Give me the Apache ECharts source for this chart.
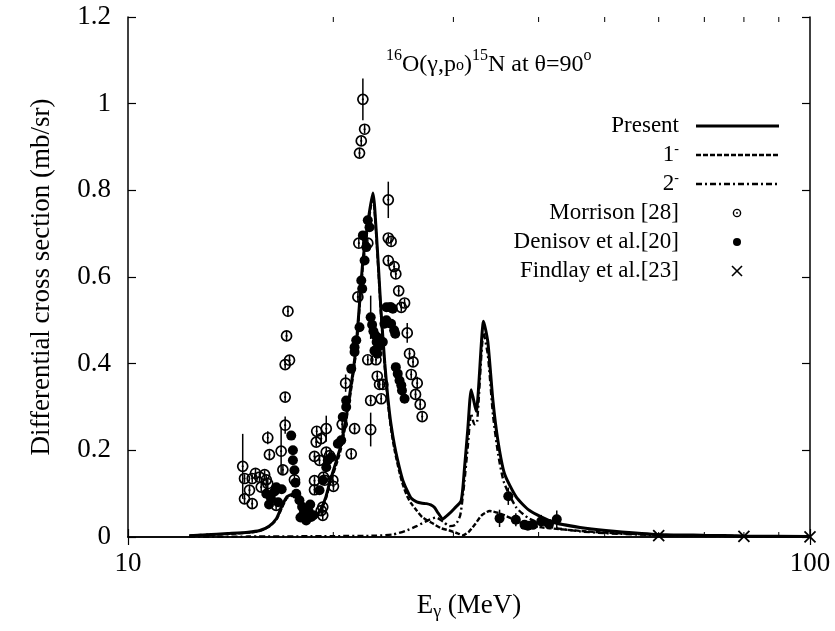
<!DOCTYPE html>
<html><head><meta charset="utf-8">
<script src="https://cdn.jsdelivr.net/npm/echarts@6/dist/echarts.min.js"></script>
<style>html,body{margin:0;padding:0;background:#fff}#c{width:835px;height:631px}</style>
</head><body><div id="c"></div>
<script>
// ---- data (E in MeV, cross section in mb/sr) ----
const presentCurve = [[12.3,0.003],[13,0.005],[14,0.008],[15,0.011],[15.6,0.015],[16.1,0.025],[16.5,0.042],[16.8,0.07],[17.1,0.093],[17.4,0.098],[17.8,0.084],[18.2,0.06],[18.6,0.048],[18.9,0.05],[19.2,0.066],[19.5,0.092],[19.75,0.125],[20.5,0.21],[21.1,0.32],[21.6,0.44],[22.08,0.63],[22.45,0.72],[22.86,0.794],[23.0,0.76],[23.3,0.62],[23.5,0.52],[23.8,0.40],[24.05,0.32],[24.3,0.26],[24.6,0.21],[25.0,0.16],[25.3,0.13],[25.7,0.105],[26.0,0.09],[26.5,0.081],[27.0,0.078],[27.4,0.077],[27.8,0.074],[28.15,0.068],[28.5,0.055],[28.95,0.042],[29.5,0.052],[30.1,0.066],[30.8,0.084],[31.15,0.16],[31.5,0.25],[31.86,0.34],[32.4,0.29],[33.22,0.498],[33.7,0.45],[34.28,0.315],[34.86,0.223],[35.65,0.146],[37.1,0.092],[38.8,0.061],[42,0.034],[46,0.022],[50.2,0.015],[59.5,0.006],[70,0.004],[80,0.0025],[100,0.001]];
const minus1Curve = [[12.3,0.003],[13,0.005],[14,0.007],[15,0.01],[15.6,0.014],[16.1,0.024],[16.5,0.04],[16.8,0.066],[17.1,0.09],[17.4,0.095],[17.8,0.08],[18.2,0.056],[18.6,0.045],[18.9,0.047],[19.2,0.062],[19.5,0.088],[19.75,0.12],[20.5,0.2],[21.1,0.31],[21.6,0.43],[22.08,0.62],[22.45,0.71],[22.86,0.785],[23.0,0.75],[23.3,0.61],[23.5,0.51],[23.8,0.39],[24.05,0.31],[24.3,0.25],[24.6,0.2],[25.0,0.15],[25.3,0.12],[25.7,0.092],[26.0,0.078],[26.5,0.061],[27.0,0.046],[28.0,0.031],[28.8,0.02],[29.6,0.015],[30.5,0.008],[31.0,0.004],[31.6,0.012],[32.3,0.03],[33.0,0.05],[33.9,0.06],[35.0,0.055],[36.5,0.043],[38.0,0.03],[40,0.023],[43,0.018],[47,0.013],[50,0.01],[60,0.005],[70,0.003],[80,0.002],[100,0.001]];
const minus2Curve = [[12.3,0.0005],[15,0.001],[20,0.002],[23,0.003],[24.5,0.006],[25.5,0.014],[26.5,0.025],[27.5,0.038],[28.3,0.045],[29.0,0.035],[29.6,0.025],[30.2,0.028],[30.7,0.05],[31.1,0.12],[31.5,0.21],[31.85,0.285],[32.2,0.26],[32.5,0.265],[33.22,0.47],[33.7,0.42],[34.3,0.28],[34.9,0.19],[35.6,0.125],[37.1,0.068],[38.8,0.042],[42,0.022],[46,0.013],[50,0.009],[60,0.004],[80,0.0015],[100,0.0006]];
// [E, value, error]
const morrison = [[14.73,0.163,0.075],[14.82,0.135,0.01],[15.21,0.135,0.01],[15.59,0.138,0.01],[15.86,0.144,0.01],[15.95,0.132,0.01],[14.82,0.088,0.01],[15.21,0.077,0.01],[15.07,0.108,0.01],[15.68,0.115,0.01],[16.03,0.123,0.01],[15.38,0.147,0.01],[16.49,0.073,0.01],[16.03,0.229,0.015],[16.12,0.19,0.01],[16.77,0.198,0.055],[16.87,0.155,0.01],[17.0,0.258,0.02],[17.0,0.323,0.01],[17.0,0.398,0.01],[17.25,0.408,0.01],[17.08,0.464,0.012],[17.16,0.521,0.012],[17.54,0.132,0.01],[18.77,0.186,0.01],[18.88,0.219,0.01],[18.91,0.244,0.01],[19.09,0.177,0.01],[19.53,0.25,0.03],[19.53,0.196,0.01],[18.77,0.109,0.01],[18.77,0.13,0.01],[19.35,0.138,0.01],[19.30,0.05,0.01],[20.01,0.117,0.01],[19.30,0.069,0.01],[19.2,0.061,0.01],[19.2,0.227,0.01],[19.75,0.188,0.01],[19.42,0.131,0.01],[19.97,0.131,0.01],[20.61,0.26,0.02],[21.25,0.192,0.01],[21.49,0.25,0.01],[22.69,0.248,0.039],[20.85,0.355,0.02],[21.73,0.554,0.01],[21.80,0.678,0.01],[22.47,0.678,0.01],[22.47,0.409,0.01],[23.10,0.409,0.01],[23.20,0.371,0.01],[23.38,0.352,0.01],[23.64,0.352,0.01],[22.69,0.315,0.01],[23.51,0.319,0.01],[22.10,1.01,0.048],[22.23,0.941,0.01],[21.98,0.914,0.01],[21.85,0.886,0.01],[24.08,0.778,0.042],[24.08,0.69,0.01],[24.31,0.682,0.01],[24.08,0.638,0.01],[24.56,0.624,0.01],[24.70,0.607,0.01],[24.94,0.568,0.01],[25.44,0.54,0.01],[25.16,0.53,0.01],[25.67,0.471,0.023],[25.87,0.423,0.01],[26.18,0.404,0.01],[26.02,0.375,0.01],[26.55,0.355,0.015],[26.40,0.329,0.01],[26.82,0.306,0.01],[27.00,0.278,0.01]];
const denisov = [[15.95,0.1,0],[16.2,0.09,0],[16.4,0.105,0],[16.6,0.08,0],[16.8,0.11,0],[16.1,0.075,0],[16.5,0.115,0],[17.35,0.234,0],[17.45,0.2,0],[17.45,0.177,0],[17.54,0.154,0],[17.65,0.1,0],[17.6,0.125,0],[17.84,0.085,0],[18.0,0.07,0],[18.1,0.055,0],[18.25,0.038,0],[18.4,0.06,0],[18.56,0.046,0],[18.5,0.075,0],[18.7,0.05,0],[17.9,0.045,0],[19.09,0.108,0],[19.63,0.177,0],[20.31,0.215,0],[20.65,0.277,0],[20.89,0.315,0],[21.25,0.388,0],[21.49,0.438,0],[21.61,0.454,0],[21.85,0.484,0],[19.3,0.131,0],[19.53,0.161,0],[19.86,0.184,0],[20.54,0.223,0],[20.89,0.3,0],[21.49,0.427,0],[22.05,0.573,0],[21.98,0.592,0],[22.23,0.638,0],[22.36,0.669,0],[22.10,0.696,0],[22.47,0.731,0],[22.6,0.715,0],[22.69,0.507,0.05],[22.8,0.49,0],[22.9,0.475,0],[23.05,0.465,0],[23.15,0.45,0],[23.25,0.46,0],[23.35,0.44,0],[22.98,0.43,0],[23.2,0.423,0],[23.93,0.53,0],[24.2,0.53,0],[24.31,0.53,0],[23.93,0.5,0],[24.31,0.492,0],[24.56,0.477,0],[24.65,0.469,0],[23.77,0.492,0],[24.45,0.527,0],[23.64,0.45,0],[24.70,0.392,0],[24.86,0.377,0],[25.01,0.361,0],[25.16,0.35,0],[25.44,0.319,0],[25.22,0.338,0],[35.06,0.043,0.02],[36.11,0.094,0.02],[37.04,0.04,0.015],[38.14,0.028,0],[38.57,0.026,0],[39.23,0.028,0],[40.36,0.036,0.015],[41.43,0.03,0],[42.53,0.041,0.02]];
const findlay = [[60,0.003],[80,0.0015],[100,0.0005]];
const minorTickValues = [20,30,40,50,60,70,80,90];
const yTicks = {min:0, max:1.2, interval:0.2};
const legendNames = ['Present','1-','2-','Morrison [28]','Denisov et al.[20]','Findlay et al.[23]'];

const FONT = "'Liberation Serif','Times New Roman',serif";
const chart = echarts.init(document.getElementById('c'), null, {renderer:'canvas'});

function morrisonItem(params, api){
  const x=api.value(0), y=api.value(1), e=api.value(2);
  const p=api.coord([x,y]), lo=api.coord([x,y-e]), hi=api.coord([x,y+e]);
  return {type:'group', children:[
    {type:'line', shape:{x1:p[0],y1:hi[1],x2:p[0],y2:lo[1]}, style:{stroke:'#000',lineWidth:1.5}},
    {type:'circle', shape:{cx:p[0],cy:p[1],r:5}, style:{fill:'rgba(0,0,0,0)',stroke:'#000',lineWidth:1.7}},
    {type:'circle', shape:{cx:p[0],cy:p[1],r:1.1}, style:{fill:'#000'}}
  ]};
}
function denisovItem(params, api){
  const x=api.value(0), y=api.value(1), e=api.value(2);
  const p=api.coord([x,y]), lo=api.coord([x,y-e]), hi=api.coord([x,y+e]);
  return {type:'group', children:[
    {type:'line', shape:{x1:p[0],y1:hi[1],x2:p[0],y2:lo[1]}, style:{stroke:'#000',lineWidth:1.5}},
    {type:'circle', shape:{cx:p[0],cy:p[1],r:5}, style:{fill:'#000'}}
  ]};
}
function crossItem(params, api){
  const p=api.coord([api.value(0),api.value(1)]); const s=5.5;
  return {type:'group', children:[
    {type:'line', shape:{x1:p[0]-s,y1:p[1]-s,x2:p[0]+s,y2:p[1]+s}, style:{stroke:'#000',lineWidth:1.8}},
    {type:'line', shape:{x1:p[0]-s,y1:p[1]+s,x2:p[0]+s,y2:p[1]-s}, style:{stroke:'#000',lineWidth:1.8}}
  ]};
}
function minorTickItem(params, api){
  const v=api.value(0); const b=api.coord([v,yTicks.min]); const t=api.coord([v,yTicks.max]);
  return {type:'group', children:[
    {type:'line', shape:{x1:b[0],y1:b[1],x2:b[0],y2:b[1]-5}, style:{stroke:'#000',lineWidth:1}},
    {type:'line', shape:{x1:t[0],y1:t[1],x2:t[0],y2:t[1]+5}, style:{stroke:'#000',lineWidth:1}}
  ]};
}

const axisLineStyle = {lineStyle:{color:'#000',width:1.5}};
const lbl = {color:'#000', fontSize:27, fontFamily:FONT};

// legend rows (decoration)
const LX_TEXT=679, LX0=696, LX1=779, LMX=737, rowY=[126,155,184,213,242,271];
const legendGraphics = [];
const lineStyles = [
  {stroke:'#000',lineWidth:3},
  {stroke:'#000',lineWidth:2.4,lineDash:[5,2]},
  {stroke:'#000',lineWidth:2.4,lineDash:[6,3,2,3]}
];
const richLegend = {
  m:{fontSize:23,fontFamily:FONT,color:'#000',lineHeight:26},
  sup:{fontSize:14,fontFamily:FONT,color:'#000',lineHeight:14,verticalAlign:'top'}
};
const legendTexts = ['{m|Present}','{m|1}{sup|-}','{m|2}{sup|-}','{m|Morrison [28]}','{m|Denisov et al.[20]}','{m|Findlay et al.[23]}'];
legendTexts.forEach((t,i)=>{
  legendGraphics.push({type:'text', x:LX_TEXT, y:rowY[i], style:{text:t, rich:richLegend, align:'right', verticalAlign:'middle', fill:'#000'}});
});
for(let i=0;i<3;i++) legendGraphics.push({type:'line', shape:{x1:LX0,y1:rowY[i],x2:LX1,y2:rowY[i]}, style:lineStyles[i]});
legendGraphics.push({type:'circle', shape:{cx:LMX,cy:rowY[3],r:3.6}, style:{fill:'rgba(0,0,0,0)',stroke:'#000',lineWidth:1.4}});
legendGraphics.push({type:'circle', shape:{cx:LMX,cy:rowY[3],r:0.9}, style:{fill:'#000'}});
legendGraphics.push({type:'circle', shape:{cx:LMX,cy:rowY[4],r:4}, style:{fill:'#000'}});
legendGraphics.push({type:'line', shape:{x1:LMX-5,y1:rowY[5]-5,x2:LMX+5,y2:rowY[5]+5}, style:{stroke:'#000',lineWidth:1.6}});
legendGraphics.push({type:'line', shape:{x1:LMX-5,y1:rowY[5]+5,x2:LMX+5,y2:rowY[5]-5}, style:{stroke:'#000',lineWidth:1.6}});

// title inside plot
legendGraphics.push({type:'text', x:386, y:48, style:{
  text:'{sup|16}{m|O(γ,p}{sub|o}{m|)}{sup|15}{m|N at θ=90}{sup|o}',
  rich:{
    m:{fontSize:24,fontFamily:FONT,color:'#000',lineHeight:26,padding:[8,0,0,0]},
    sup:{fontSize:16,fontFamily:FONT,color:'#000',lineHeight:16,verticalAlign:'top'},
    sub:{fontSize:16,fontFamily:FONT,color:'#000',lineHeight:16,verticalAlign:'bottom'}
  }
}});

const option = {
  animation:false,
  backgroundColor:'#fff',
  grid:{left:128, top:17, right:25, bottom:94, containLabel:false},
  xAxis:[
    {type:'log', logBase:10, min:10, max:100, position:'bottom',
     axisLine:axisLineStyle, axisTick:{inside:true,length:8,lineStyle:{color:'#000',width:1.2}},
     splitLine:{show:false}, minorTick:{show:false},
     axisLabel:Object.assign({margin:13, formatter:v=>String(Math.round(v))},lbl),
     name:'{m|E}{s|γ}{m| (MeV)}', nameLocation:'middle', nameGap:54,
     nameTextStyle:{rich:{m:{fontSize:27,fontFamily:FONT,color:'#000',lineHeight:30},s:{fontSize:18,fontFamily:FONT,color:'#000',lineHeight:18,verticalAlign:'bottom'}}}},
    {type:'log', logBase:10, min:10, max:100, position:'top',
     axisLine:axisLineStyle, axisTick:{inside:true,length:8,lineStyle:{color:'#000',width:1.2}},
     axisLabel:{show:false}, splitLine:{show:false}}
  ],
  yAxis:[
    {type:'value', min:yTicks.min, max:yTicks.max, interval:yTicks.interval, position:'left',
     axisLine:Object.assign({show:true},axisLineStyle), axisTick:{show:true,inside:true,length:8,lineStyle:{color:'#000',width:1.2}},
     splitLine:{show:false}, axisLabel:Object.assign({margin:17},lbl),
     name:'Differential cross section (mb/sr)', nameLocation:'middle', nameGap:73,
     nameTextStyle:{fontSize:27,fontFamily:FONT,color:'#000'}},
    {type:'value', min:yTicks.min, max:yTicks.max, interval:yTicks.interval, position:'right',
     axisLine:Object.assign({show:true},axisLineStyle), axisTick:{show:true,inside:true,length:8,lineStyle:{color:'#000',width:1.2}},
     splitLine:{show:false}, axisLabel:{show:false}}
  ],
  graphic:legendGraphics,
  series:[
    {type:'custom', name:'minor', renderItem:minorTickItem, data:minorTickValues.map(v=>[v]), encode:{x:0}, clip:false, silent:true, z:5},
    {type:'line', name:legendNames[0], data:presentCurve, symbol:'none', smooth:0.2, lineStyle:{color:'#000',width:3}, z:2},
    {type:'line', name:legendNames[1], data:minus1Curve, symbol:'none', smooth:0.2, lineStyle:{color:'#000',width:2.4,type:[5,2]}, z:2},
    {type:'line', name:legendNames[2], data:minus2Curve, symbol:'none', smooth:0.2, lineStyle:{color:'#000',width:2.4,type:[6,3,2,3]}, z:2},
    {type:'custom', name:legendNames[3], renderItem:morrisonItem, data:morrison, encode:{x:0,y:1}, z:3},
    {type:'custom', name:legendNames[4], renderItem:denisovItem, data:denisov, encode:{x:0,y:1}, z:3},
    {type:'custom', name:legendNames[5], renderItem:crossItem, data:findlay, encode:{x:0,y:1}, clip:false, z:3}
  ]
};
chart.setOption(option);
</script></body></html>
